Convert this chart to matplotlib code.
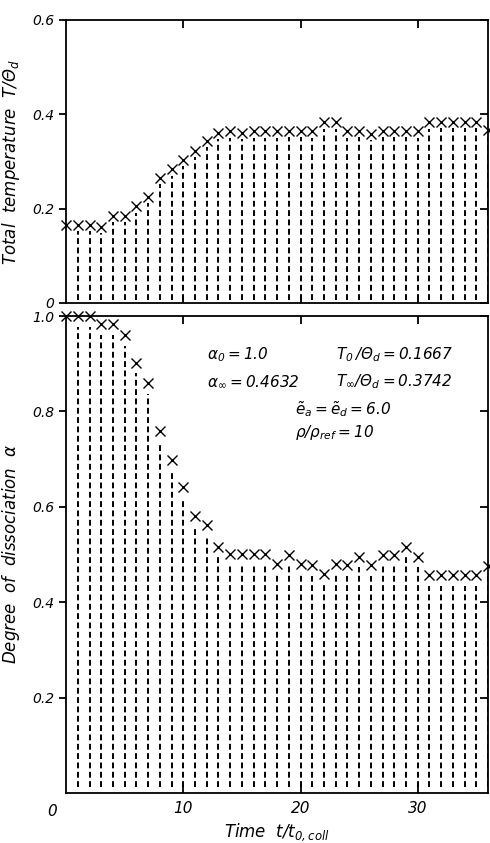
import numpy as np
import matplotlib.pyplot as plt

plt.rcParams['font.family'] = 'DejaVu Sans'
plt.rcParams['font.style'] = 'italic'
plt.rcParams['mathtext.fontset'] = 'custom'
plt.rcParams['mathtext.rm'] = 'DejaVu Sans:italic'
plt.rcParams['mathtext.it'] = 'DejaVu Sans:italic'
plt.rcParams['mathtext.sf'] = 'DejaVu Sans:italic'

# time steps t / t_0,coll
t = np.arange(0, 37)

# total temperature T / theta_d
temperature = [0.166, 0.165, 0.165, 0.161, 0.184, 0.184, 0.205, 0.225, 0.266, 0.283,
               0.304, 0.323, 0.344, 0.360, 0.364, 0.361, 0.364, 0.364, 0.364, 0.365,
               0.365, 0.364, 0.383, 0.383, 0.364, 0.365, 0.358, 0.365, 0.365, 0.365,
               0.364, 0.383, 0.384, 0.384, 0.384, 0.384, 0.366]

# degree of dissociation alpha
alpha = [1.0, 1.0, 1.0, 0.983, 0.983, 0.960, 0.902, 0.859, 0.758, 0.699,
         0.641, 0.581, 0.562, 0.516, 0.501, 0.501, 0.501, 0.501, 0.481, 0.500,
         0.481, 0.478, 0.460, 0.481, 0.478, 0.495, 0.478, 0.500, 0.500, 0.516,
         0.495, 0.457, 0.457, 0.457, 0.457, 0.457, 0.476]

fig = plt.figure(figsize=(4.9, 8.43), dpi=100)
ax1 = fig.add_axes([0.135, 0.6406, 0.861, 0.3357])
ax2 = fig.add_axes([0.135, 0.0593, 0.861, 0.5658])

dash = (0, (3.0, 1.8))


def draw(ax, values, ymax):
    vals = np.array(values)
    # dashed stems from the base line up to just under each cross
    ax.vlines(t[1:], ymax * 0.012, vals[1:] - ymax * 0.022, colors='black',
              linewidth=1.4, linestyles=[dash])
    ax.plot(t, vals, linestyle='none', marker='x', color='black',
            markersize=6.5, markeredgewidth=1.0, clip_on=False)
    ax.set_xlim(0, 36)
    ax.set_ylim(0, ymax)
    for s in ax.spines.values():
        s.set_linewidth(1.3)
    ax.set_xticks([10, 20, 30])
    ax.tick_params(axis='x', direction='in', top=True, bottom=True, length=6, width=1.3)
    ax.tick_params(axis='y', direction='out', left=True, right=True, length=5, width=1.3,
                   labelsize=10)


draw(ax1, temperature, 0.6)
draw(ax2, alpha, 1.0)

ax1.set_yticks([0, 0.2, 0.4, 0.6])
ax1.set_yticklabels(['0', '0.2', '0.4', '0.6'])
ax1.tick_params(axis='x', labelbottom=False)

ax2.set_yticks([0.2, 0.4, 0.6, 0.8, 1.0])
ax2.set_yticklabels(['0.2', '0.4', '0.6', '0.8', '1.0'])
ax2.set_xticklabels(['10', '20', '30'], fontsize=11)
ax2.tick_params(axis='x', pad=6)
ax2.text(-1.2, -0.022, '0', fontsize=11, ha='center', va='top',
         transform=ax2.transData)

# right side ticks point inward, left side outward
for ax in (ax1, ax2):
    for tk in ax.yaxis.get_major_ticks():
        tk.tick2line.set_marker(0)
        tk.tick2line.set_markersize(6)

ax1.set_ylabel(r'Total  temperature  $T/\Theta_d$', fontsize=12)
ax2.set_ylabel(r'Degree  of  dissociation  $\alpha$', fontsize=12)
ax2.set_xlabel(r'Time  $t/t_{0,coll}$', fontsize=12, labelpad=4)
ax1.yaxis.set_label_coords(-0.105, 0.5)
ax2.yaxis.set_label_coords(-0.105, 0.5)

txt = dict(fontsize=11, ha='left', va='center')
ax2.text(12.0, 0.920, r'$\alpha_0 = 1.0$', **txt)
ax2.text(23.0, 0.920, r'$T_0\,/\Theta_d = 0.1667$', **txt)
ax2.text(12.0, 0.863, r'$\alpha_\infty = 0.4632$', **txt)
ax2.text(23.0, 0.863, r'$T_\infty/\Theta_d = 0.3742$', **txt)
ax2.text(19.5, 0.805, r'$\tilde{e}_a = \tilde{e}_d = 6.0$', **txt)
ax2.text(19.5, 0.755, r'$\rho/\rho_{ref} = 10$', **txt)

fig.savefig('out.png', dpi=100)
